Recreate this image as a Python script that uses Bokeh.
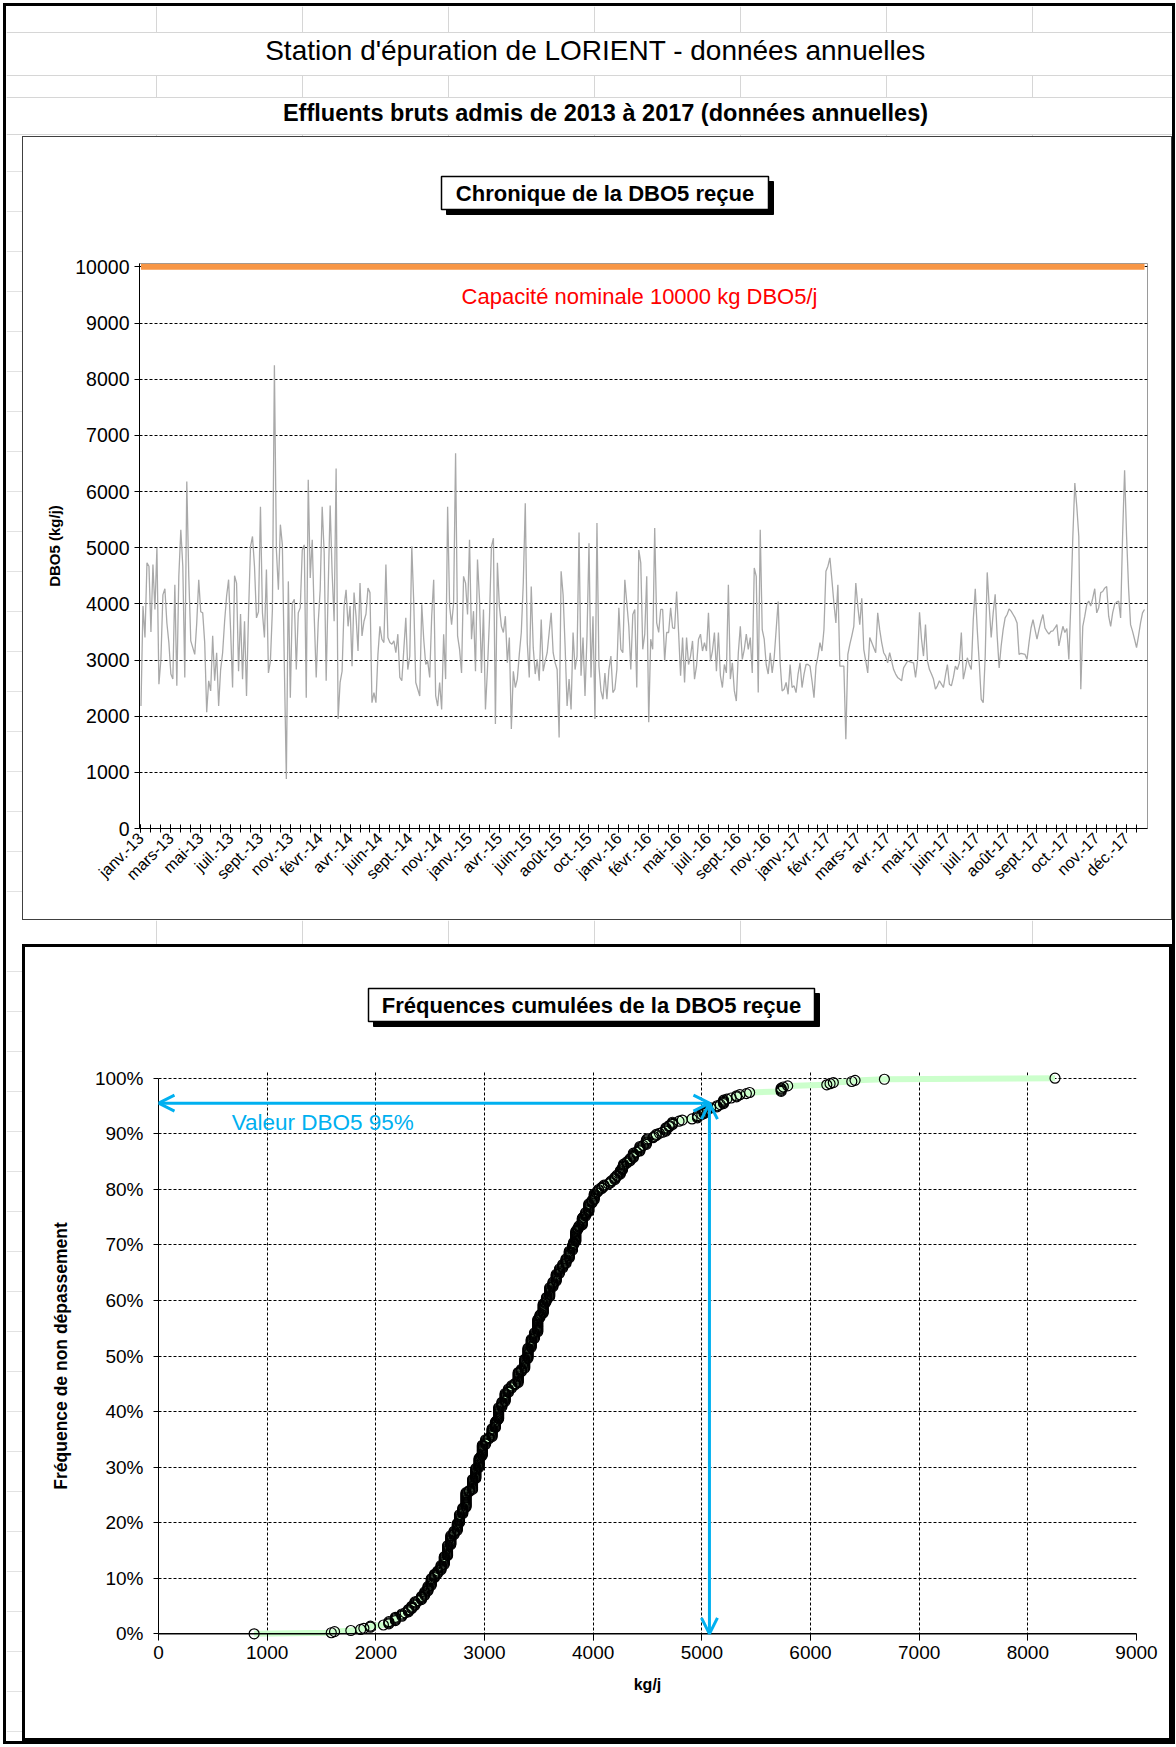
import math
from bokeh.plotting import figure
from bokeh.layouts import column, row
from bokeh.models import (Range1d, FixedTicker, NumeralTickFormatter, Label,
                          Arrow, OpenHead, Span)
from bokeh.embed import file_html
from bokeh.resources import INLINE
from bokeh.core.properties import value

FONT = "Liberation Sans"

# ---------------- texts ----------------
page_title = "Station d'épuration de LORIENT - données annuelles"
page_subtitle = "Effluents bruts admis de 2013 à 2017 (données annuelles)"
chart1_title = "Chronique de la DBO5 reçue"
chart2_title = "Fréquences cumulées de la DBO5 reçue"
capacity_text = "Capacité nominale  10000 kg DBO5/j"
p95_text = "Valeur DBO5 95%"
chart1_ylabel = "DBO5 (kg/j)"
chart2_ylabel = "Fréquence de non dépassement"
chart2_xlabel = "kg/j"

# ---------------- data ----------------
capacity = 10000          # kg DBO5/j
dbo5_p95 = 5070           # kg/j, value read at the 95 % arrow
freq_p95 = 0.955          # level of the horizontal arrow

date_labels = ["janv.-13", "mars-13", "mai-13", "juil.-13", "sept.-13", "nov.-13",
               "févr.-14", "avr.-14", "juin-14", "sept.-14", "nov.-14",
               "janv.-15", "avr.-15", "juin-15", "août-15", "oct.-15",
               "janv.-16", "févr.-16", "mai-16", "juil.-16", "sept.-16", "nov.-16",
               "janv.-17", "févr.-17", "mars-17", "avr.-17", "mai-17", "juin-17",
               "juil.-17", "août-17", "sept.-17", "oct.-17", "nov.-17", "déc.-17"]
label_every = 15          # one date label every 15 samples
tick_every = 5            # one tick mark every 5 samples

dbo5_ticks = [0, 1000, 2000, 3000, 4000, 5000, 6000, 7000, 8000, 9000, 10000]
kg_ticks = [0, 1000, 2000, 3000, 4000, 5000, 6000, 7000, 8000, 9000]
freq_ticks = [0.0, 0.1, 0.2, 0.3, 0.4, 0.5, 0.6, 0.7, 0.8, 0.9, 1.0]

dbo5_part1 = [
    2180, 3960, 3400, 4730, 4670, 3500, 4700, 3900, 5000, 2570,
    3010, 4160, 4270, 3660, 3310, 2750, 2660, 4340, 2540,
    4490, 5320, 4670, 2690, 6180, 4490, 3340, 3220, 3100,
    3660, 4430, 3860, 3840, 3310, 2070, 2630, 2450, 3430,
    2630, 3130, 2180, 2830, 3130, 3690, 4140, 4430, 3540,
    2510, 4500, 4370, 2800, 3820, 2660, 3690, 2360, 3820, 5020,
    5200, 4670, 3750, 3860, 5730, 3840, 3400, 4610, 2770,
    2980, 3900, 8250, 4960, 4250, 5410, 5050, 2890, 880,
    4400, 2330, 4010, 4080, 2830, 3840, 3930, 4960, 5050,
    2330, 6210, 4460, 5140, 3780, 2690, 3660, 4250, 5730, 4910,
    2630, 4250, 5750, 4550, 3690, 6410, 1950, 2600, 2800,
    3960, 4250, 3600, 3960, 2890, 4200, 3780, 3160, 4370,
    3430, 3690, 3820, 4280, 4200, 2240, 2420, 2240, 3100,
    3600, 3370, 3310, 4700, 3400, 3310, 3280, 3340,
]
dbo5_part2 = [
    3130, 3460, 2690, 2630, 3190, 3750, 2830,
    3070, 5020, 4010, 2600, 2480, 2360, 3990, 3370, 2920,
    2980, 2690, 3780, 4430, 2360, 2180, 2600, 2120, 3460,
    2660, 5730, 3960, 3630, 4010, 6680, 3430, 3190, 2770, 4490,
    4370, 3810, 5140, 3370, 3870, 2800, 4790, 4080, 2770,
    3900, 2120, 2830, 3720, 5020, 5170, 1860, 4730, 3960, 3600,
    3490, 3780, 2950, 3400, 1770, 2800, 2510, 2660, 3100,
    3490, 4370, 5790, 3310, 2690, 4310, 3220, 2750, 3010,
    2630, 3720, 2800, 2980, 3130, 3490, 3840, 3130,
    2950, 2830, 1620, 4580, 4160, 3250, 2180, 2660, 2120,
    3490, 2830, 3070, 5270, 2720, 3400, 2360, 3430, 5080,
    2690, 3780, 1950, 5440, 2890, 2450, 2300, 2770, 2300,
    2830, 3070, 2420, 2480, 2830, 3930, 3190, 3130, 4430,
    4010, 3600, 2830, 3810, 3900, 2510, 4960, 4730, 3190, 3460,
    4490, 1890,
]
dbo5_part3 = [
    3370, 3190, 5350, 3660, 3490, 3900, 3900,
    2980, 3490, 3490, 3930, 3570, 3560, 4220, 3490, 2720, 3400,
    2600, 3400, 2920, 3070, 3340, 2660, 2890, 3370, 3460, 3160,
    3310, 3160, 3840, 2980, 3160, 3490, 2800, 3490, 2720, 2510,
    2920, 2770, 4340, 2660, 2950, 2450, 2270, 3130, 3600, 3010,
    3190, 3460, 3190, 3400, 2770, 4640, 4490, 2420, 5320, 3540,
    3370, 2920, 2750, 3130, 2770, 3040, 3540, 4040, 2950, 2450,
    2480, 2600, 2390, 2920, 2510, 2540, 2420, 2750, 2950, 2510,
    2750, 2920, 2920, 2890, 2630, 2330, 2890, 3070, 3310, 3160,
    3540, 4580, 4670, 4820, 4430, 4010, 3660, 4340, 2890, 2890,
    2890, 1590, 3100, 3280, 3430, 3600, 4370, 3960, 3630, 4100,
    3190, 2980, 2770, 3400, 3310, 3220, 3130, 3840, 3540, 3310,
    3130, 3070, 2950, 3130, 2980, 2830, 2750, 2690, 2660, 2630,
]
dbo5_part4 = [
    2860, 2920, 2980, 2970, 2960, 2950, 2690, 2980, 3850, 3370,
    3070, 3630, 2980, 2830, 2750, 2660, 2480, 2540, 2630, 2570, 2510,
    2720, 2920, 2570, 2540, 2690, 2890, 2830, 2950, 3490, 2660,
    2830, 3040, 2920, 2830, 3720, 4270, 3540, 2950, 2300, 2240,
    3070, 4560, 3960, 3400, 3840, 4170, 3430, 2860, 3250, 3540,
    3750, 3810, 3910, 3870, 3810, 3750, 3660, 3100, 3120, 3110, 3100,
    3010, 3310, 3570, 3720, 3540, 3370, 3540, 3690, 3810, 3570,
    3510, 3460, 3510, 3520, 3570, 3630, 3250, 3430, 3600, 3490, 3560,
    3010, 4010, 5200, 6150, 5730, 5200, 2480, 3600, 3780, 3990,
    4050, 3960, 4100, 4270, 3840, 3930, 4200, 4220, 4280, 4310,
    3780, 3600, 3840, 3990, 4030, 4050, 3750, 5230, 6380, 5200,
    4280, 3630, 3510, 3370, 3220, 3430, 3660, 3840, 3900,
]

dbo5 = dbo5_part1 + dbo5_part2 + dbo5_part3 + dbo5_part4
n = len(dbo5)
idx = list(range(n))
label_idx = [k * label_every for k in range(len(date_labels))]
tick_idx = list(range(0, n, tick_every))

# cumulative frequency (chart 2) = the same samples, sorted
sorted_dbo5 = sorted(dbo5)
cum_freq = [i / (n - 1) for i in range(n)]

# ---------------- layout (pixels) ----------------
PAGE_W = 1166
HEAD_H = 130
GAP_H = 24
SIDE_W = 16
C_W = PAGE_W - SIDE_W
TITLE_H = 100
C1_H = 684
C1_L, C1_R, C1_T, C1_B = 116, 26, 27, 92
C2_H = 697
C2_L, C2_R, C2_T, C2_B = 133, 39, 27, 101
SHEET_COLS = [150, 296, 442, 588, 734, 880, 1026]
SHEET_LINE = "#d6d6d6"
BLUE = "#00b0f0"
GRID_DASH = "3 2"


def blank_fig(w, h, left=0, right=0, **kw):
    # data units == canvas pixels (x from the canvas left, y from the canvas top)
    p = figure(width=w, height=h, x_range=Range1d(left, w - right), y_range=Range1d(h, 0),
               toolbar_location=None, output_backend="svg", min_border=0,
               min_border_left=left, min_border_right=right,
               x_axis_location=None, y_axis_location=None, outline_line_color=None, **kw)
    p.xgrid.visible = False
    p.ygrid.visible = False
    return p


def sheet_fig(h, bands, hlines):
    p = blank_fig(PAGE_W, h)
    for (y0, y1) in bands:
        p.segment(x0=SHEET_COLS, y0=[y0] * len(SHEET_COLS), x1=SHEET_COLS,
                  y1=[y1] * len(SHEET_COLS), line_color=SHEET_LINE, line_width=1)
    if hlines:
        p.segment(x0=[0] * len(hlines), y0=hlines, x1=[PAGE_W] * len(hlines), y1=hlines,
                  line_color=SHEET_LINE, line_width=1)
    return p


def side_fig(h, first, step):
    p = blank_fig(SIDE_W, h)
    ys = list(range(first, h, step))
    p.segment(x0=[0] * len(ys), y0=ys, x1=[SIDE_W] * len(ys), y1=ys,
              line_color="#e2e2e2", line_width=1)
    return p


def title_fig(h, left, right, cx, cy, bw, bh, text, border):
    p = blank_fig(C_W, h, left=left, right=right, styles=border)
    p.rect(x=[cx + 5], y=[cy + 5], width=bw, height=bh, fill_color="black", line_color="black")
    p.rect(x=[cx], y=[cy], width=bw, height=bh, fill_color="white", line_color="black",
           line_width=1.5)
    p.text(x=[cx], y=[cy], text=[text], text_font=value(FONT), text_font_size="22px",
           text_font_style="bold", text_align="center", text_baseline="middle",
           text_color="black")
    return p


# ---------------- header ----------------
head = sheet_fig(HEAD_H, [(0, 26), (69, 91), (128, HEAD_H)], [26, 69, 91, 128])
head.text(x=[589], y=[44], text=[page_title], text_font=value(FONT), text_font_size="28px",
          text_align="center", text_baseline="middle", text_color="black")
head.text(x=[599], y=[106], text=[page_subtitle], text_font=value(FONT), text_font_size="23.5px",
          text_font_style="bold", text_align="center", text_baseline="middle", text_color="black")

gap = sheet_fig(GAP_H, [(0, GAP_H)], [])


def style_axes(p):
    p.axis.major_label_text_font = FONT
    p.axis.axis_label_text_font = FONT
    p.axis.axis_label_text_font_style = "bold"
    p.axis.axis_line_color = "black"
    p.axis.major_tick_line_color = "black"
    p.axis.minor_tick_line_color = None
    p.axis.major_label_text_color = "black"
    p.axis.axis_label_text_color = "black"


# ---------------- chart 1 : time series ----------------
B1 = "1.5px solid #404040"
t1 = title_fig(TITLE_H, C1_L, C1_R, 581.5, 55.5, 327, 33, chart1_title,
               {"border-top": B1, "border-left": B1, "border-right": B1})

x1_start, x1_end = -0.75, n - 1 + 1.5
y1_start, y1_end = 0, capacity + 60
p1 = figure(width=C_W, height=C1_H, x_range=Range1d(x1_start, x1_end),
            y_range=Range1d(y1_start, y1_end), toolbar_location=None, output_backend="svg",
            min_border_left=C1_L, min_border_right=C1_R, min_border_top=C1_T,
            min_border_bottom=C1_B, outline_line_color="#9a9a9a",
            styles={"border-bottom": B1, "border-left": B1, "border-right": B1})
p1.line(idx, dbo5, line_color="#a9a9a9", line_width=1.3)
p1.line(idx, [capacity] * n, line_color="#f79646", line_width=6)

style_axes(p1)
p1.xaxis.ticker = FixedTicker(ticks=label_idx, minor_ticks=tick_idx)
p1.xaxis.major_label_overrides = {i: lab for i, lab in zip(label_idx, date_labels)}
p1.xaxis.major_label_orientation = math.pi / 4
p1.xaxis.major_label_text_font_size = "16px"
p1.xaxis.major_label_standoff = 3
p1.xaxis.major_tick_in = 4
p1.xaxis.major_tick_out = 4
p1.xaxis.minor_tick_line_color = "black"
p1.xaxis.minor_tick_in = 4
p1.xaxis.minor_tick_out = 4
p1.yaxis.ticker = FixedTicker(ticks=dbo5_ticks)
p1.yaxis.formatter = NumeralTickFormatter(format="0")
p1.yaxis.major_label_text_font_size = "19.5px"
p1.yaxis.major_tick_in = 0
p1.yaxis.major_tick_out = 5
p1.yaxis.major_label_standoff = 5
p1.yaxis.axis_label = chart1_ylabel
p1.yaxis.axis_label_text_font_size = "15px"
p1.yaxis.axis_label_standoff = 9
p1.xgrid.visible = False
p1.ygrid.grid_line_color = "black"
p1.ygrid.grid_line_dash = GRID_DASH
p1.ygrid.grid_line_width = 1

p1.add_layout(Label(x=161, y=9475, text=capacity_text, text_align="left",
                    text_baseline="middle", text_font=FONT, text_font_size="22px",
                    text_color="#ff0000"))

# ---------------- chart 2 : cumulative frequencies ----------------
B2 = "3px solid #000000"
t2 = title_fig(TITLE_H, C2_L, C2_R, 566, 57.5, 446, 33, chart2_title,
               {"border-top": B2, "border-left": B2, "border-right": B2})

x2_start, x2_end = 0, 9000
y2_start, y2_end = -0.012, 1.012
p2 = figure(width=C_W, height=C2_H, x_range=Range1d(x2_start, x2_end),
            y_range=Range1d(y2_start, y2_end), toolbar_location=None, output_backend="svg",
            min_border_left=C2_L, min_border_right=C2_R, min_border_top=C2_T,
            min_border_bottom=C2_B, outline_line_color=None,
            styles={"border-bottom": B2, "border-left": B2, "border-right": B2})
p2.line(sorted_dbo5, cum_freq, line_color="#ccffcc", line_width=6)
p2.scatter(sorted_dbo5, cum_freq, marker="circle", size=10, line_color="black",
           line_width=1.2, fill_color=None)

style_axes(p2)
p2.xaxis.ticker = FixedTicker(ticks=kg_ticks)
p2.xaxis.formatter = NumeralTickFormatter(format="0")
p2.xaxis.axis_line_color = None
p2.xaxis.major_label_text_font_size = "19px"
p2.xaxis.major_tick_in = 7
p2.xaxis.major_tick_out = 0
p2.xaxis.major_label_standoff = 5
p2.xaxis.axis_label = chart2_xlabel
p2.xaxis.axis_label_text_font_size = "16px"
p2.xaxis.axis_label_standoff = 14
p2.yaxis.ticker = FixedTicker(ticks=freq_ticks)
p2.yaxis.formatter = NumeralTickFormatter(format="0%")
p2.yaxis.bounds = (0, 1)
p2.yaxis.major_label_text_font_size = "19px"
p2.yaxis.major_tick_in = 0
p2.yaxis.major_tick_out = 5
p2.yaxis.major_label_standoff = 10
p2.yaxis.axis_label = chart2_ylabel
p2.yaxis.axis_label_text_font_size = "17.5px"
p2.yaxis.axis_label_standoff = 21
p2.grid.grid_line_color = "black"
p2.grid.grid_line_dash = GRID_DASH
p2.grid.grid_line_width = 1
p2.add_layout(Span(location=0, dimension="width", line_color="black", line_width=1.5))


def arrow_head():
    return OpenHead(size=16, line_color=BLUE, line_width=3)


p2.add_layout(Arrow(start=arrow_head(), end=arrow_head(), x_start=dbo5_p95, y_start=freq_p95,
                    x_end=0, y_end=freq_p95, line_color=BLUE, line_width=3))
p2.add_layout(Arrow(start=arrow_head(), end=arrow_head(), x_start=dbo5_p95, y_start=freq_p95,
                    x_end=dbo5_p95, y_end=0, line_color=BLUE, line_width=3))
p2.add_layout(Label(x=673, y=0.921, text=p95_text, text_align="left", text_baseline="middle",
                    text_font=FONT, text_font_size="22.5px", text_color=BLUE))

# ---------------- page ----------------
block1 = row(side_fig(TITLE_H + C1_H, 35, 40), column(t1, p1))
block2 = row(side_fig(TITLE_H + C2_H, 27, 40), column(t2, p2))
page = column(head, block1, gap, block2,
              styles={"border": "3px solid #000000"}, margin=(3, 0, 0, 3))

with open("out.html", "w") as f:
    f.write(file_html(page, INLINE))
